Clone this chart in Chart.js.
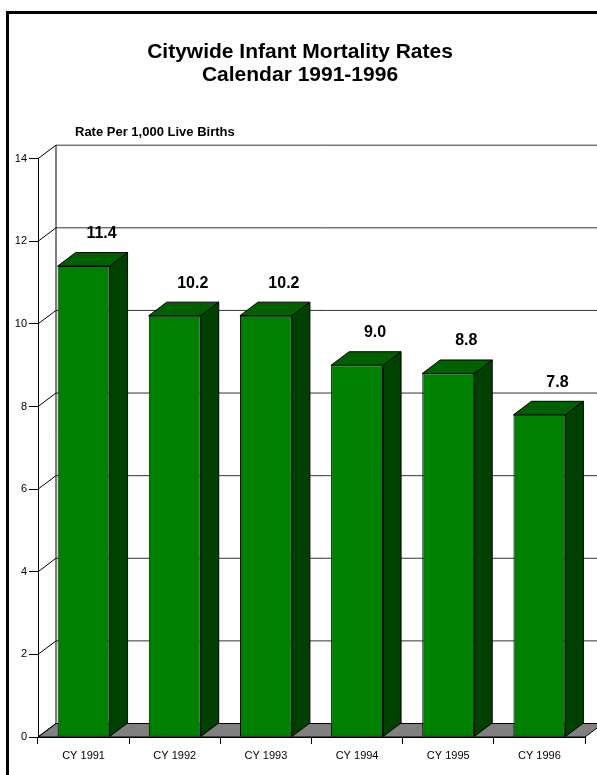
<!DOCTYPE html>
<html>
<head>
<meta charset="utf-8">
<script src="https://cdn.jsdelivr.net/npm/chart.js@4/dist/chart.umd.min.js"></script>
<style>
  body { margin: 0; background: #fff; }
  #wrap { width: 597px; height: 775px; }
</style>
</head>
<body>
<div id="wrap"><canvas id="chartCanvas"></canvas></div>
<script>
// données
const categories = ["CY 1991", "CY 1992", "CY 1993", "CY 1994", "CY 1995", "CY 1996"];
const rates = [11.4, 10.2, 10.2, 9.0, 8.8, 7.8];
const yTicks = [0, 2, 4, 6, 8, 10, 12, 14];
const titleLines = ["Citywide Infant Mortality Rates", "Calendar 1991-1996"];
const axisTitle = "Rate Per 1,000 Live Births";

const FONT = "'Liberation Sans', Arial, sans-serif";
const dx = 18, dy = 13.5; // profondeur 3D

const walls3d = {
  id: "walls3d",
  beforeDraw(chart) {
    const ctx = chart.ctx;
    ctx.save();
    ctx.fillStyle = "#fff";
    ctx.fillRect(0, 0, chart.width, chart.height);
    // cadre noir (gauche + haut)
    ctx.strokeStyle = "#000";
    ctx.lineWidth = 3;
    ctx.beginPath();
    ctx.moveTo(7.5, chart.height);
    ctx.lineTo(7.5, 12.5);
    ctx.lineTo(chart.width, 12.5);
    ctx.stroke();
    // titre de l'axe
    ctx.fillStyle = "#000";
    ctx.font = "bold 13px " + FONT;
    ctx.textBaseline = "middle";
    ctx.fillText(axisTitle, 75, 132);
    ctx.restore();
  },
  beforeDatasetsDraw(chart) {
    const { ctx, chartArea: a, scales } = chart;
    const y = scales.y;
    const base = y.getPixelForValue(0);
    ctx.save();
    ctx.lineWidth = 1;
    // sol gris
    ctx.fillStyle = "#808080";
    ctx.strokeStyle = "#000";
    ctx.beginPath();
    ctx.moveTo(a.left, base);
    ctx.lineTo(a.right, base);
    ctx.lineTo(a.right + dx, base - dy);
    ctx.lineTo(a.left + dx, base - dy);
    ctx.closePath();
    ctx.fill();
    ctx.stroke();
    // lignes du mur du fond + diagonales du mur gauche
    yTicks.forEach(v => {
      const py = y.getPixelForValue(v);
      ctx.strokeStyle = "#000";
      ctx.beginPath();
      ctx.moveTo(a.left, py);
      ctx.lineTo(a.left + dx, py - dy);
      ctx.stroke();
      if (v > 0) {
        ctx.strokeStyle = "#333";
        ctx.beginPath();
        ctx.moveTo(a.left + dx, py - dy);
        ctx.lineTo(chart.width, py - dy);
        ctx.stroke();
      }
    });
    // bord gauche du mur du fond
    ctx.strokeStyle = "#000";
    ctx.beginPath();
    ctx.moveTo(a.left + dx, y.getPixelForValue(14) - dy);
    ctx.lineTo(a.left + dx, base - dy);
    ctx.stroke();
    ctx.restore();
  },
  afterDatasetsDraw(chart) {
    const ctx = chart.ctx;
    const meta = chart.getDatasetMeta(0);
    ctx.save();
    ctx.lineWidth = 1;
    ctx.strokeStyle = "#000";
    meta.data.forEach((bar, i) => {
      const p = bar.getProps(["x", "y", "base", "width"], true);
      const l = p.x - p.width / 2, r = p.x + p.width / 2;
      // côté
      ctx.fillStyle = "#004000";
      ctx.beginPath();
      ctx.moveTo(r, p.y);
      ctx.lineTo(r + dx, p.y - dy);
      ctx.lineTo(r + dx, p.base - dy);
      ctx.lineTo(r, p.base);
      ctx.closePath();
      ctx.fill();
      ctx.stroke();
      // dessus
      ctx.fillStyle = "#006000";
      ctx.beginPath();
      ctx.moveTo(l, p.y);
      ctx.lineTo(l + dx, p.y - dy);
      ctx.lineTo(r + dx, p.y - dy);
      ctx.lineTo(r, p.y);
      ctx.closePath();
      ctx.fill();
      ctx.stroke();
      // valeur
      ctx.fillStyle = "#000";
      ctx.font = "bold 16px " + FONT;
      ctx.textAlign = "center";
      ctx.textBaseline = "middle";
      ctx.fillText(rates[i].toFixed(1), p.x + dx, p.y - dy - 19);
    });
    ctx.restore();
  }
};

const ctx = document.getElementById("chartCanvas").getContext("2d");
new Chart(ctx, {
  type: "bar",
  data: {
    labels: categories,
    datasets: [{
      data: rates,
      backgroundColor: "#008000",
      borderColor: "#000",
      borderWidth: 1,
      borderSkipped: false,
      categoryPercentage: 1,
      barPercentage: 0.57
    }]
  },
  options: {
    responsive: true,
    maintainAspectRatio: false,
    animation: false,
    layout: { padding: { left: 15, right: 12, top: 0, bottom: 0 } },
    plugins: {
      legend: { display: false },
      tooltip: { enabled: false },
      title: {
        display: true,
        text: titleLines,
        color: "#000",
        font: { family: FONT, size: 21, weight: "bold", lineHeight: 1.1 },
        padding: { top: 40.5, bottom: 72 }
      }
    },
    scales: {
      x: {
        afterFit: s => { s.height = 38; },
        grid: { display: true, drawOnChartArea: false, drawTicks: true, tickLength: 7, color: "#000" },
        border: { display: true, color: "#000" },
        ticks: { color: "#000", font: { family: FONT, size: 11 }, padding: 5 }
      },
      y: {
        min: 0,
        max: 14,
        afterFit: s => { s.width = 23; },
        afterBuildTicks: s => { s.ticks = yTicks.map(v => ({ value: v })); },
        grid: { display: true, drawOnChartArea: false, drawTicks: true, tickLength: 9, color: "#000" },
        border: { display: true, color: "#000" },
        ticks: { color: "#000", font: { family: FONT, size: 11 }, padding: 2 }
      }
    }
  },
  plugins: [walls3d]
});
</script>
</body>
</html>
